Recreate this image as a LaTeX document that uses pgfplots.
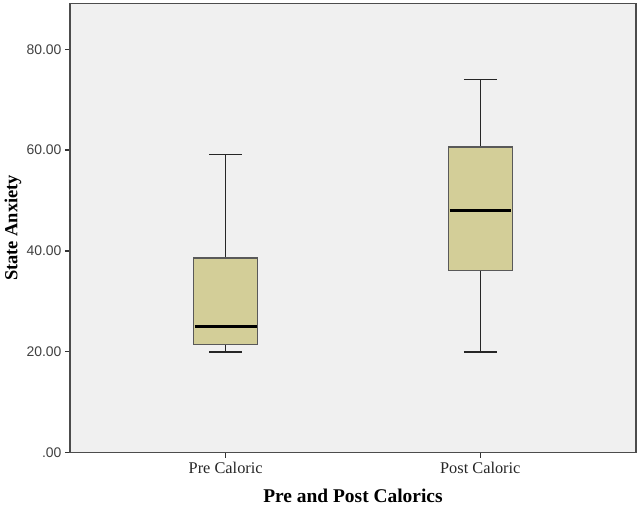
\documentclass[border=0pt]{standalone}
\usepackage{pgfplots}
\pgfplotsset{compat=1.18}
\usepackage{fontspec}
\setmainfont{Liberation Serif}
\newfontfamily\ticksans{Liberation Sans}
\definecolor{boxfill}{RGB}{211,206,152}
\definecolor{bg}{RGB}{240,240,240}
\begin{document}
\begin{tikzpicture}
\begin{axis}[
  scale only axis,
  width=566bp, height=449bp,
  xmin=0.3885, xmax=2.6115,
  ymin=0, ymax=89.1,
  axis background/.style={fill=bg},
  axis line style={draw=black!70, line width=1.3pt},
  xtick={1,2}, xticklabels={Pre Caloric, Post Caloric},
  ytick={0,20,40,60,80},
  yticklabels={.00,20.00,40.00,60.00,80.00},
  yticklabel style={font=\ticksans\fontsize{14}{16}\selectfont, text=black!75},
  xticklabel style={font=\fontsize{16.4}{18}\selectfont, text=black!85, yshift=-1bp},
  tick style={draw=black!80, line width=1.3pt},
  major tick length=5bp,
  ytick pos=left, xtick pos=bottom,
  tick align=outside,
  xlabel={\textbf{Pre and Post Calorics}},
  ylabel={\textbf{State Anxiety}},
  xlabel style={font=\fontsize{19.5}{21}\selectfont, yshift=-9bp},
  ylabel style={font=\fontsize{18.5}{20}\selectfont, yshift=-1.5bp},
  clip=false,
]
% whiskers
\addplot[draw=black!85, line width=1.6pt] coordinates {(1,38.6) (1,59.1)};
\addplot[draw=black!85, line width=1.6pt] coordinates {(1,20.0) (1,21.5)};
\addplot[draw=black!85, line width=1.6pt] coordinates {(0.935,59.1) (1.065,59.1)};
\addplot[draw=black!85, line width=1.6pt] coordinates {(0.935,20.0) (1.065,20.0)};
\addplot[draw=black!85, line width=1.6pt] coordinates {(2,60.6) (2,74.0)};
\addplot[draw=black!85, line width=1.6pt] coordinates {(2,19.9) (2,36.1)};
\addplot[draw=black!85, line width=1.6pt] coordinates {(1.935,74.0) (2.065,74.0)};
\addplot[draw=black!85, line width=1.6pt] coordinates {(1.935,19.9) (2.065,19.9)};
% boxes
\addplot[fill=boxfill, draw=black!65, line width=1.3pt] coordinates {(0.8745,21.5) (1.1255,21.5) (1.1255,38.6) (0.8745,38.6)} -- cycle;
\addplot[fill=boxfill, draw=black!65, line width=1.3pt] coordinates {(1.8745,36.1) (2.1255,36.1) (2.1255,60.6) (1.8745,60.6)} -- cycle;
% medians
\addplot[draw=black, line width=3pt] coordinates {(0.879,25.1) (1.121,25.1)};
\addplot[draw=black, line width=3pt] coordinates {(1.879,48.1) (2.121,48.1)};
\end{axis}
\pgfresetboundingbox
\path (current axis.south west) ++(-70bp,-56.5bp) rectangle ++(640bp,509bp);
\end{tikzpicture}
\end{document}
